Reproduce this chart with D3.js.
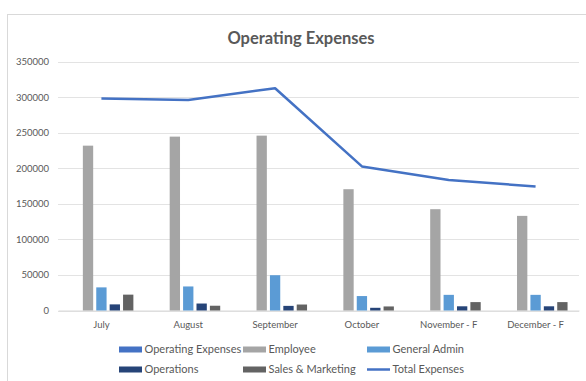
<!DOCTYPE html>
<html>
<head>
<meta charset="utf-8">
<script src="https://cdn.jsdelivr.net/npm/d3@7/dist/d3.min.js"></script>
<style>
  body { margin: 0; background: #fff; }
  text { font-family: Lato, "Open Sans", sans-serif; fill: #595959; }
</style>
</head>
<body>
<svg id="chart" width="586" height="381"></svg>
<script>
'use strict';

let months = ["July", "August", "September", "October", "November - F", "December - F"]
let seriesNames = ["Operating Expenses", "Employee", "General Admin", "Operations", "Sales & Marketing"]
let operatingExpenses = [0, 0, 0, 0, 0, 0]
let employee = [231700, 244400, 245800, 170500, 142400, 133000]
let generalAdmin = [32500, 33800, 49600, 20300, 22000, 22000]
let operations = [8600, 9800, 6500, 3800, 5900, 5900]
let salesMarketing = [22300, 6700, 8400, 5700, 11800, 11800]
let totalExpenses = [298000, 296000, 312400, 202500, 183300, 174300]
let yTicks = [0, 50000, 100000, 150000, 200000, 250000, 300000, 350000]

let barColors = ["#4472C4", "#A5A5A5", "#5B9BD5", "#264478", "#636363"]
let lineColor = "#4472C4"

let svg = d3.select("#chart")

// chart frame (runs past the right and bottom of the picture)
svg.append("rect")
    .attr("x", 7.5).attr("y", 14.5)
    .attr("width", 620).attr("height", 420)
    .attr("fill", "#fff")
    .attr("stroke", "#d9d9d9")

svg.append("text")
    .attr("x", 301).attr("y", 44)
    .attr("text-anchor", "middle")
    .style("font-size", "16.5px")
    .style("font-weight", "bold")
    .text("Operating Expenses")

let plot = { left: 58, right: 579, top: 61.5, bottom: 310.5 }

let x0 = d3.scaleBand().domain(months).range([plot.left, plot.right])
let groupW = 67
let x1 = d3.scaleBand().domain(seriesNames)
    .range([(x0.bandwidth() - groupW) / 2, (x0.bandwidth() + groupW) / 2])
    .paddingInner(0.23).paddingOuter(0.115)
let y = d3.scaleLinear().domain([0, 350000]).range([plot.bottom, plot.top])

// gridlines
svg.append("g")
    .selectAll("line")
    .data(yTicks)
    .enter().append("line")
    .attr("x1", plot.left).attr("x2", plot.right)
    .attr("y1", function(d) { return Math.round(y(d)) + 0.5 })
    .attr("y2", function(d) { return Math.round(y(d)) + 0.5 })
    .attr("stroke", "#e3e3e3")
    .attr("stroke-width", 1)

// y axis labels
let yAxis = d3.axisLeft(y).tickValues(yTicks).tickSize(0).tickPadding(9).tickFormat(d3.format("d"))
let yg = svg.append("g").attr("transform", "translate(" + plot.left + ",0)").call(yAxis)
yg.select(".domain").remove()
yg.selectAll("text").style("font-size", "9.5px").style("fill", "#595959")

// x axis labels
let xAxis = d3.axisBottom(x0).tickSize(0).tickPadding(11)
let xg = svg.append("g").attr("transform", "translate(0," + plot.bottom + ")").call(xAxis)
xg.select(".domain").attr("stroke", "#d9d9d9")
xg.selectAll("text").style("font-size", "9.5px").style("fill", "#595959")

let seriesValues = [operatingExpenses, employee, generalAdmin, operations, salesMarketing]
let rows = months.map(function(m, i) {
    return { month: m, vals: seriesNames.map(function(s, j) { return { name: s, idx: j, value: seriesValues[j][i] } }) }
})

let groups = svg.append("g")
    .selectAll("g")
    .data(rows)
    .enter().append("g")
    .attr("transform", function(d) { return "translate(" + x0(d.month) + ",0)" })

groups.selectAll("rect")
    .data(function(d) { return d.vals })
    .enter().append("rect")
    .attr("x", function(d) { return x1(d.name) })
    .attr("width", x1.bandwidth())
    .attr("y", function(d) { return y(d.value) })
    .attr("height", function(d) { return y(0) - y(d.value) })
    .attr("fill", function(d) { return barColors[d.idx] })

// total line
let line = d3.line()
    .x(function(d, i) { return x0(months[i]) + x0.bandwidth() / 2 })
    .y(function(d) { return y(d) })

svg.append("path")
    .datum(totalExpenses)
    .attr("d", line)
    .attr("fill", "none")
    .attr("stroke", lineColor)
    .attr("stroke-width", 2.5)
    .attr("stroke-linejoin", "round")

// legend
let legendItems = [
    { name: "Operating Expenses", color: barColors[0], col: 0, row: 0, type: "bar" },
    { name: "Employee", color: barColors[1], col: 1, row: 0, type: "bar" },
    { name: "General Admin", color: barColors[2], col: 2, row: 0, type: "bar" },
    { name: "Operations", color: barColors[3], col: 0, row: 1, type: "bar" },
    { name: "Sales & Marketing", color: barColors[4], col: 1, row: 1, type: "bar" },
    { name: "Total Expenses", color: lineColor, col: 2, row: 1, type: "line" }
]
let colX = [119, 243, 367]
let rowY = [349.5, 369.5]

let legend = svg.append("g")
    .selectAll("g")
    .data(legendItems)
    .enter().append("g")
    .attr("transform", function(d) { return "translate(" + colX[d.col] + "," + rowY[d.row] + ")" })

legend.filter(function(d) { return d.type === "bar" })
    .append("rect")
    .attr("x", 0).attr("y", -3)
    .attr("width", 23).attr("height", 6)
    .attr("fill", function(d) { return d.color })

legend.filter(function(d) { return d.type === "line" })
    .append("line")
    .attr("x1", 0).attr("x2", 23)
    .attr("y1", 0).attr("y2", 0)
    .attr("stroke", function(d) { return d.color })
    .attr("stroke-width", 2.5)

legend.append("text")
    .attr("x", 25.5).attr("y", 0)
    .attr("dy", "0.35em")
    .style("font-size", "11px")
    .text(function(d) { return d.name })
</script>
</body>
</html>
